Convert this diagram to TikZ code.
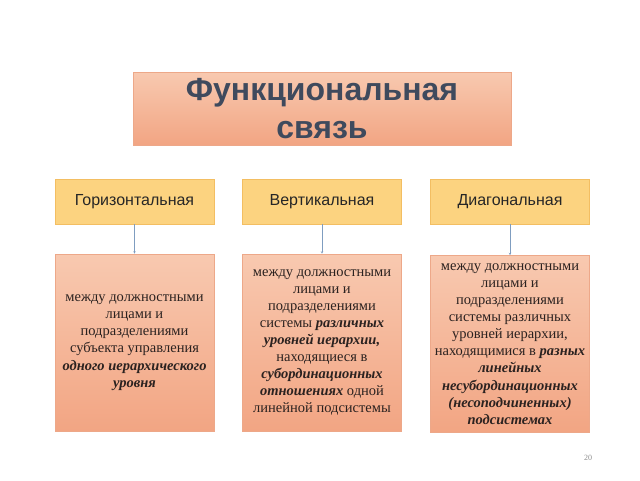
\documentclass[tikz,border=0pt]{standalone}
\usepackage{fontspec}
\setmainfont{Liberation Serif}
\newfontfamily\arialfont{Liberation Sans}
\usetikzlibrary{arrows.meta}
\definecolor{titletxt}{HTML}{3F4A5D}
\definecolor{salmontop}{HTML}{F8C9B0}
\definecolor{salmonbot}{HTML}{F2A583}
\definecolor{salmonedge}{HTML}{EDA889}
\definecolor{goldfill}{HTML}{FCD380}
\definecolor{goldedge}{HTML}{F3BE62}
\definecolor{linkcol}{HTML}{7F9DC0}
\definecolor{bodytxt}{HTML}{2B2220}
\tikzset{
  titlebox/.style={draw=salmonedge, line width=0.8pt, top color=salmontop, bottom color=salmonbot,
    minimum width=378pt, minimum height=73pt, inner sep=0pt, align=center,
    text=titletxt, font=\arialfont\bfseries\fontsize{32}{38}\selectfont},
  levelbox/.style={draw=goldedge, line width=0.6pt, fill=goldfill,
    minimum width=159pt, minimum height=45pt, inner sep=0pt,
    text=black!85, font=\arialfont\fontsize{16}{18}\selectfont},
  descbox/.style={draw=salmonedge, line width=0.6pt, top color=salmontop, bottom color=salmonbot,
    minimum width=159pt, minimum height=177pt, inner sep=0pt, align=center,
    text=bodytxt, font=\fontsize{14.5}{17.1}\selectfont},
  link/.style={draw=linkcol, line width=0.6pt, -{Stealth[length=2.5pt,width=2.5pt]}}
}
\begin{document}
\begin{tikzpicture}[x=1pt,y=-1pt]
\useasboundingbox (0,0) rectangle (640,480);
\node[titlebox] (title) at (322,108.5) {Функциональная\\[-1pt]\raisebox{-1.5pt}{связь}};
\node[levelbox] (h) at (134.5,201.5) {Горизонтальная};
\node[levelbox] (v) at (322,201.5) {Вертикальная};
\node[levelbox] (d) at (510,201.5) {Диагональная};
\node[descbox] (hd) at (134.5,342.5) {между должностными\\лицами и\\подразделениями\\субъекта управления\\\textbf{\textit{одного иерархического}}\\\textbf{\textit{уровня}}};
\node[descbox] (vd) at (322,342.5) {между должностными\\лицами и\\подразделениями\\системы \textbf{\textit{различных}}\\\textbf{\textit{уровней иерархии,}}\\находящиеся в\\\textbf{\textit{субординационных}}\\\textbf{\textit{отношениях}} одной\\линейной подсистемы};
\node[descbox] (dd) at (510,344) {между должностными\\лицами и\\подразделениями\\системы различных\\уровней иерархии,\\находящимися в \textbf{\textit{разных}}\\\textbf{\textit{линейных}}\\\textbf{\textit{несубординационных}}\\\textbf{\textit{(несоподчиненных)}}\\\textbf{\textit{подсистемах}}};
\draw[link] (h) -- (hd);
\draw[link] (v) -- (vd);
\draw[link] (d) -- (dd);
\node[text=black!45, font=\fontsize{8}{9}\selectfont] (pg) at (588,458) {20};
\end{tikzpicture}
\end{document}
